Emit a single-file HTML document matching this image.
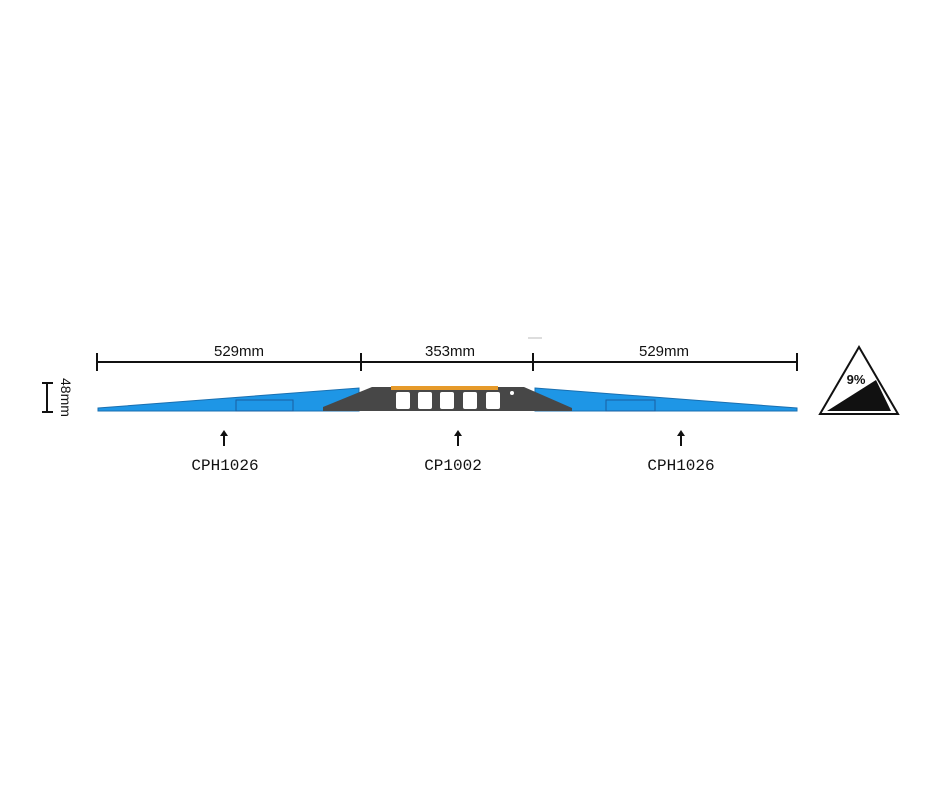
<!DOCTYPE html>
<html><head><style>body{margin:0;background:#fff}</style></head><body>
<svg width="940" height="788" viewBox="0 0 940 788" xmlns="http://www.w3.org/2000/svg" font-family="Liberation Sans, sans-serif">
<rect width="940" height="788" fill="#fff"/>
<g stroke="#111" stroke-width="2">
<line x1="97" y1="362" x2="797" y2="362"/>
<line x1="97" y1="353" x2="97" y2="371"/>
<line x1="361" y1="353" x2="361" y2="371"/>
<line x1="533" y1="353" x2="533" y2="371"/>
<line x1="797" y1="353" x2="797" y2="371"/>
<line x1="47" y1="383" x2="47" y2="412"/>
<line x1="42" y1="383" x2="53" y2="383"/>
<line x1="42" y1="412" x2="53" y2="412"/>
</g>
<line x1="528" y1="338" x2="542" y2="338" stroke="#bbb"/>
<g font-size="15" fill="#111" text-anchor="middle">
<text x="239" y="356">529mm</text>
<text x="450" y="356">353mm</text>
<text x="664" y="356">529mm</text>
</g>
<text x="0" y="0" font-size="14" fill="#111" transform="translate(61,378) rotate(90)">48mm</text>
<polygon points="98,408 359,388 359,411 98,411" fill="#1e96e6" stroke="#1a6fb0" stroke-width="1"/>
<polygon points="535,388 797,408 797,411 535,411" fill="#1e96e6" stroke="#1a6fb0" stroke-width="1"/>
<rect x="236" y="400" width="57" height="11" fill="none" stroke="#1a5fa0"/>
<rect x="606" y="400" width="49" height="11" fill="none" stroke="#1a5fa0"/>
<polygon points="323,411 323,407 372,387 524,387 572,408 572,411" fill="#474747"/>
<rect x="391" y="386" width="107" height="4" fill="#e69a2a"/>
<g fill="#fff">
<rect x="396" y="392" width="14" height="17" rx="2"/>
<rect x="418" y="392" width="14" height="17" rx="2"/>
<rect x="440" y="392" width="14" height="17" rx="2"/>
<rect x="463" y="392" width="14" height="17" rx="2"/>
<rect x="486" y="392" width="14" height="17" rx="2"/>
<circle cx="512" cy="393" r="2"/>
</g>
<g stroke="#111" stroke-width="2" fill="#111">
<line x1="224" y1="446" x2="224" y2="434"/><polygon points="220,436 224,430 228,436" stroke="none"/>
<line x1="458" y1="446" x2="458" y2="434"/><polygon points="454,436 458,430 462,436" stroke="none"/>
<line x1="681" y1="446" x2="681" y2="434"/><polygon points="677,436 681,430 685,436" stroke="none"/>
</g>
<g font-family="Liberation Mono, monospace" font-size="16" fill="#111" text-anchor="middle">
<text x="225" y="470">CPH1026</text>
<text x="453" y="470">CP1002</text>
<text x="681" y="470">CPH1026</text>
</g>
<polygon points="859,347 820,414 898,414" fill="#fff" stroke="#111" stroke-width="2"/>
<polygon points="827,411 876,380 891,411" fill="#111"/>
<text x="856" y="384" font-size="13" font-weight="bold" text-anchor="middle" fill="#111">9%</text>
</svg>
</body></html>
